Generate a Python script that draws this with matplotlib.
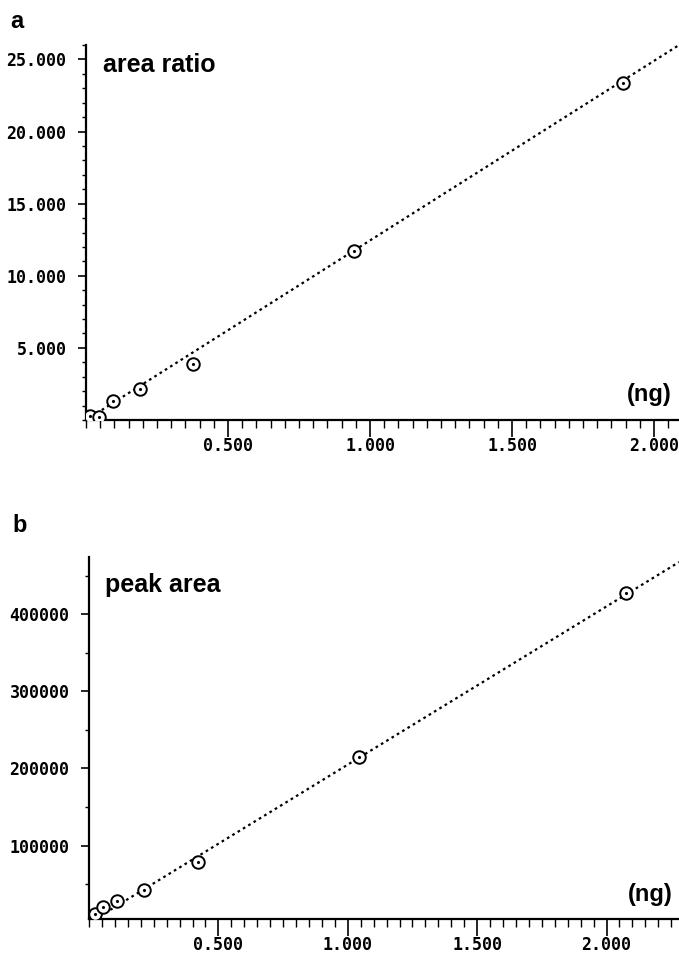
import numpy as np
import matplotlib.pyplot as plt
from matplotlib.ticker import MultipleLocator, FormatStrFormatter

# panel a: area ratio vs amount (ng)
amount_a = [0.014, 0.047, 0.095, 0.19, 0.376, 0.945, 1.89]
ratio_a = [0.28, 0.20, 1.30, 2.15, 3.90, 11.75, 23.40]
fit_a = (12.45, 0.0)  # slope, intercept of drawn calibration line

# panel b: peak area vs amount (ng)
amount_b = [0.023, 0.054, 0.108, 0.212, 0.42, 1.042, 2.077]
peak_b = [11000, 20000, 28000, 42000, 79000, 215000, 427000]
fit_b = (205000.0, 0.0)

TICK_FONT = {'family': 'DejaVu Sans Mono', 'weight': 'bold', 'size': 12}
TEXT_FONT = {'family': 'Liberation Sans', 'weight': 'bold', 'size': 17}
LABEL_FONT = {'family': 'Liberation Sans', 'weight': 'bold', 'size': 18}


def style_axis(ax, xlim, ylim, ymajor, yminor, yfmt):
    ax.set_xlim(xlim)
    ax.set_ylim(ylim)
    for side in ('top', 'right'):
        ax.spines[side].set_visible(False)
    for side in ('left', 'bottom'):
        ax.spines[side].set_linewidth(1.6)
    ax.xaxis.set_major_locator(MultipleLocator(0.5))
    ax.xaxis.set_minor_locator(MultipleLocator(0.05))
    ax.xaxis.set_major_formatter(FormatStrFormatter('%.3f'))
    ax.yaxis.set_major_locator(MultipleLocator(ymajor))
    ax.yaxis.set_minor_locator(MultipleLocator(yminor))
    ax.yaxis.set_major_formatter(FormatStrFormatter(yfmt))
    ax.tick_params(axis='x', which='major', direction='out', length=12, width=1.2, pad=0)
    ax.tick_params(axis='x', which='minor', direction='out', length=6, width=1.0)
    ax.tick_params(axis='y', which='major', direction='out', length=6, width=1.2, pad=8)
    ax.tick_params(axis='y', which='minor', direction='out', length=3, width=1.0)


def draw_panel(ax, x, y, fit):
    x0, x1 = ax.get_xlim()
    xs = np.array([x0, x1])
    ax.plot(xs, fit[0] * xs + fit[1], color='black', linewidth=1.6,
            linestyle=(0, (1.2, 1.6)), zorder=2)
    ax.plot(x, y, linestyle='none', marker='o', markersize=9,
            markerfacecolor='white', markeredgecolor='black',
            markeredgewidth=1.4, zorder=3)
    ax.plot(x, y, linestyle='none', marker='.', markersize=2.5,
            color='black', zorder=4)


fig = plt.figure(figsize=(6.79, 9.6), dpi=100)

ax_a = fig.add_axes([86 / 679, 1 - 420 / 960, 593 / 679, 375 / 960])
ax_a.patch.set_visible(False)
style_axis(ax_a, (0, 2.088), (0, 26.0), 5, 1, '%.3f')
draw_panel(ax_a, amount_a, ratio_a, fit_a)
ax_a.set_yticks([5, 10, 15, 20, 25])

ax_b = fig.add_axes([89 / 679, 1 - 919 / 960, 590 / 679, 362 / 960])
ax_b.patch.set_visible(False)
style_axis(ax_b, (0, 2.28), (5000, 474000), 100000, 50000, '%d')
draw_panel(ax_b, amount_b, peak_b, fit_b)
ax_b.set_yticks([100000, 200000, 300000, 400000])

for ax in (ax_a, ax_b):
    ax.set_xticks([0.5, 1.0, 1.5, 2.0])
    for lab in ax.get_xticklabels() + ax.get_yticklabels():
        lab.set_fontfamily(TICK_FONT['family'])
        lab.set_fontweight(TICK_FONT['weight'])
        lab.set_fontsize(TICK_FONT['size'])

fig.text(10 / 679, 1 - 21 / 960, 'a', ha='left', va='center', **TEXT_FONT)
fig.text(12 / 679, 1 - 525 / 960, 'b', ha='left', va='center', **TEXT_FONT)
fig.text(103 / 679, 1 - 65 / 960, 'area ratio', ha='left', va='center', **LABEL_FONT)
fig.text(105 / 679, 1 - 585 / 960, 'peak area', ha='left', va='center', **LABEL_FONT)
fig.text(672 / 679, 1 - 395 / 960, '(ng)', ha='right', va='center', **TEXT_FONT)
fig.text(673 / 679, 1 - 895 / 960, '(ng)', ha='right', va='center', **TEXT_FONT)

fig.savefig('out.png', dpi=100)
